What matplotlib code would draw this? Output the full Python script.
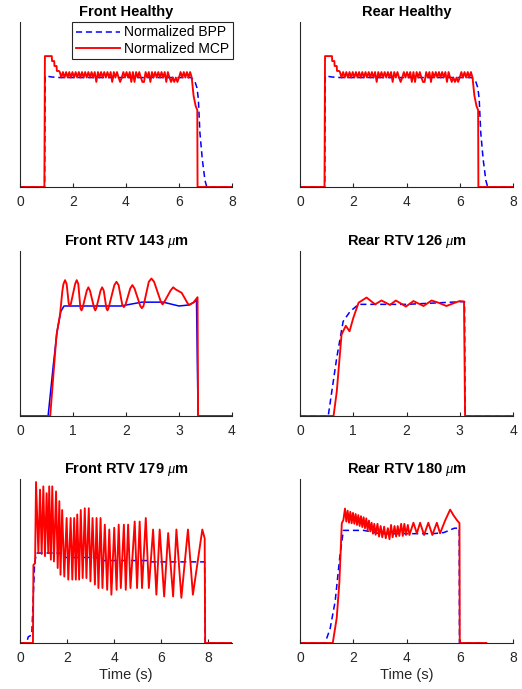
import matplotlib
matplotlib.use('Agg')
import matplotlib.pyplot as plt

plt.rcParams['font.family'] = ['Liberation Sans', 'DejaVu Sans']
plt.rcParams['mathtext.fontset'] = 'custom'
plt.rcParams['mathtext.it'] = 'Liberation Serif:italic'

# ---- Front / Rear Healthy (both panels show the same traces) ----
healthy_bpp_t = [0, 0.93, 0.95, 1.2, 1.5, 6.45, 6.6, 6.68, 6.73, 6.79, 6.88, 6.98, 7.05, 8.0]
healthy_bpp_v = [0, 0, 1.01, 1.0, 0.995, 0.995, 0.96, 0.9, 0.8, 0.49, 0.25, 0.06, 0, 0]

healthy_mcp_head_t = [0, 0.92, 0.94, 1.20, 1.21, 1.29, 1.30, 1.38, 1.39, 1.47]
healthy_mcp_head_v = [0, 0, 1.19, 1.19, 1.145, 1.145, 1.10, 1.10, 1.055, 1.055]
healthy_band_t = [1.50, 1.56, 1.62, 1.68, 1.74, 1.80, 1.86, 1.92, 1.98, 2.04,
                  2.10, 2.16, 2.22, 2.28, 2.34, 2.40, 2.46, 2.52, 2.58, 2.64,
                  2.70, 2.76, 2.82, 2.88, 2.94, 3.00, 3.06, 3.12, 3.18, 3.24,
                  3.30, 3.36, 3.42, 3.48, 3.54, 3.60, 3.66, 3.72, 3.78, 3.84,
                  3.90, 3.96, 4.02, 4.08, 4.14, 4.20, 4.26, 4.32, 4.38, 4.44,
                  4.50, 4.56, 4.62, 4.68, 4.74, 4.80, 4.86, 4.92, 4.98, 5.04,
                  5.10, 5.16, 5.22, 5.28, 5.34, 5.40, 5.46, 5.52, 5.58, 5.64,
                  5.70, 5.76, 5.82, 5.88, 5.94, 6.00, 6.06, 6.12, 6.18, 6.24,
                  6.30, 6.36, 6.42, 6.48]
# quantised MCP levels: H = upper step, L = lower step, D = dip
healthy_band_code = ("HLHLHLHLHL" "HLHLHLHLHL" "HLHDHLHLHL" "HLHDHLHLDL"
                     "HLHLHDHDHL" "HLDDHLHDHL" "HLHLHLHDHL" "DLDLDLHLHL" "HLHL")
band_levels = {'H': 1.045, 'L': 0.995, 'D': 0.955}
healthy_mcp_tail_t = [6.55, 6.63, 6.69, 6.70, 8.0]
healthy_mcp_tail_v = [0.83, 0.735, 0.70, 0, 0]

# ---- Front RTV 143 um ----
f143_bpp_t = [0, 0.53, 0.63, 0.70, 0.77, 0.83, 1.2, 1.9, 2.3, 2.7, 3.0, 3.2, 3.33, 3.36, 4.0]
f143_bpp_v = [0, 0, 0.47, 0.77, 0.95, 1.0, 1.0, 1.0, 1.035, 1.035, 1.0, 1.01, 1.05, 0, 0]
f143_mcp_t = [0, 0.57, 0.63, 0.69, 0.755, 0.80, 0.82, 0.85, 0.88, 0.92, 0.94, 0.96,
              1.04, 1.07, 1.10, 1.14, 1.16, 1.18, 1.26, 1.29, 1.32, 1.40, 1.42, 1.44,
              1.52, 1.55, 1.58, 1.63, 1.65, 1.67, 1.78, 1.82, 1.86, 1.93, 1.96, 1.99,
              2.08, 2.12, 2.16, 2.27, 2.30, 2.33, 2.43, 2.48, 2.53, 2.66, 2.69, 2.72,
              2.84, 2.89, 2.94, 3.05, 3.18, 3.27, 3.35, 3.36, 4.0]
f143_mcp_v = [0, 0, 0.375, 0.74, 0.92, 1.14, 1.20, 1.235, 1.20, 1.02, 1.0, 1.02,
              1.20, 1.235, 1.20, 0.98, 0.96, 0.98, 1.14, 1.17, 1.14, 0.98, 0.96, 0.98,
              1.14, 1.17, 1.14, 0.98, 0.96, 0.98, 1.19, 1.22, 1.19, 1.01, 0.99, 1.01,
              1.16, 1.19, 1.16, 1.0, 0.98, 1.0, 1.22, 1.25, 1.22, 1.035, 1.015, 1.035,
              1.14, 1.17, 1.15, 1.12, 1.01, 1.03, 1.08, 0, 0]

# ---- Rear RTV 126 um ----
r126_bpp_t = [0, 0.53, 0.69, 0.81, 0.94, 1.1, 2.0, 3.07, 3.09, 3.1, 4.0]
r126_bpp_v = [0, 0, 0.53, 0.86, 0.95, 1.015, 1.015, 1.04, 1.04, 0, 0]
r126_mcp_t = [0, 0.63, 0.69, 0.78, 0.86, 0.93, 1.0, 1.1, 1.25, 1.41, 1.53, 1.69, 1.8,
              1.99, 2.13, 2.32, 2.47, 2.6, 2.75, 2.91, 3.0, 3.08, 3.1, 4.0]
r126_mcp_v = [0, 0, 0.22, 0.74, 0.82, 0.77, 0.89, 1.03, 1.077, 1.015, 1.05, 1.01, 1.05,
              0.995, 1.045, 1.0, 1.05, 1.03, 1.0, 1.03, 1.045, 1.04, 0, 0]

# ---- Front RTV 179 um ----
f179_bpp_t = [0, 0.28, 0.35, 0.50, 0.56, 0.62, 0.70, 1.70, 1.75, 3.25, 3.35, 5.45, 5.55,
              7.84, 7.86, 9.0]
f179_bpp_v = [0, 0, 0.07, 0.09, 0.5, 0.9, 1.015, 1.015, 0.965, 0.965, 0.93, 0.93, 0.915,
              0.915, 0, 0]
f179_mcp_t = [0, 0.55, 0.57, 0.64, 0.68, 0.78, 0.85, 0.92, 0.99, 1.06, 1.13, 1.20, 1.24,
              1.31, 1.37, 1.44, 1.53, 1.60, 1.67, 1.72, 1.79, 1.88, 1.98, 2.05, 2.15,
              2.22, 2.30, 2.37, 2.43, 2.51, 2.58, 2.66, 2.75, 2.82, 2.92, 2.99, 3.08,
              3.18, 3.25, 3.33, 3.42, 3.50, 3.60, 3.70, 3.79, 3.88, 4.00, 4.10, 4.19,
              4.28, 4.41, 4.49, 4.59, 4.69, 4.87, 4.97, 5.08, 5.18, 5.34, 5.47, 5.65,
              5.79, 5.93, 6.12, 6.29, 6.50, 6.64, 6.85, 7.13, 7.34, 7.74, 7.84, 7.86, 9.0]
f179_mcp_v = [0, 0, 0.88, 0.90, 1.816, 1.015, 1.73, 1.004, 1.767, 0.98, 1.69, 1.015, 1.767,
              0.94, 1.767, 0.92, 1.71, 0.846, 1.60, 0.77, 1.50, 0.75, 1.41, 0.715, 1.41,
              0.715, 1.41, 0.715, 1.45, 0.715, 1.50, 0.733, 1.52, 0.733, 1.52, 0.695, 1.41,
              0.66, 1.41, 0.62, 1.41, 0.62, 1.335, 0.60, 1.28, 0.545, 1.30, 0.60, 1.335,
              0.62, 1.335, 0.60, 1.335, 0.62, 1.37, 0.62, 1.37, 0.62, 1.41, 0.62, 1.28,
              0.545, 1.28, 0.525, 1.24, 0.525, 1.28, 0.51, 1.28, 0.545, 1.28, 1.18, 0, 0]

# ---- Rear RTV 180 um ----
r180_bpp_t = [0, 0.94, 1.13, 1.32, 1.5, 1.63, 2.4, 3.0, 5.0, 5.4, 5.8, 5.98, 5.99, 7.0]
r180_bpp_v = [0, 0, 0.13, 0.38, 0.8, 1.03, 1.03, 1.0, 1.0, 1.01, 1.05, 1.05, 0, 0]
r180_mcp_t = [0, 1.23, 1.38, 1.48, 1.57, 1.63,
              1.69, 1.74, 1.79, 1.84, 1.89, 1.94, 1.99, 2.04, 2.09, 2.14, 2.19, 2.24,
              2.29, 2.34, 2.39, 2.44, 2.49, 2.54, 2.59, 2.64, 2.69, 2.74, 2.79, 2.84,
              2.91, 2.97, 3.03, 3.09, 3.16, 3.22, 3.30, 3.36, 3.42, 3.48, 3.55, 3.61,
              3.67, 3.73, 3.80, 3.86, 3.92, 3.98, 4.05, 4.11,
              4.26, 4.39, 4.51, 4.66, 4.82, 4.97, 5.14, 5.26, 5.45, 5.64, 5.76, 5.89,
              5.99, 6.0, 7.0]
r180_mcp_v = [0, 0, 0.23, 0.56, 1.095, 1.125,
              1.23, 1.11, 1.21, 1.10, 1.20, 1.095, 1.19, 1.09, 1.18, 1.08, 1.17, 1.07,
              1.16, 1.06, 1.15, 1.05, 1.14, 1.03, 1.12, 1.02, 1.10, 1.00, 1.09, 0.99,
              1.09, 0.973, 1.07, 0.967, 1.064, 0.958, 1.05, 0.949, 1.08, 0.967, 1.07, 0.973,
              1.07, 0.979, 1.09, 0.979, 1.09, 0.988, 1.08, 0.988,
              1.10, 1.003, 1.10, 0.988, 1.10, 0.988, 1.10, 1.003, 1.12, 1.22, 1.17, 1.125,
              1.095, 0, 0]

healthy_mcp_t = healthy_mcp_head_t + healthy_band_t + healthy_mcp_tail_t
healthy_mcp_v = (healthy_mcp_head_v + [band_levels[c] for c in healthy_band_code]
                 + healthy_mcp_tail_v)

titles = ['Front Healthy', 'Rear Healthy',
          r'Front RTV 143 $\mu$m', r'Rear RTV 126 $\mu$m',
          r'Front RTV 179 $\mu$m', r'Rear RTV 180 $\mu$m']
bpp_t = [healthy_bpp_t, healthy_bpp_t, f143_bpp_t, r126_bpp_t, f179_bpp_t, r180_bpp_t]
bpp_v = [healthy_bpp_v, healthy_bpp_v, f143_bpp_v, r126_bpp_v, f179_bpp_v, r180_bpp_v]
mcp_t = [healthy_mcp_t, healthy_mcp_t, f143_mcp_t, r126_mcp_t, f179_mcp_t, r180_mcp_t]
mcp_v = [healthy_mcp_v, healthy_mcp_v, f143_mcp_v, r126_mcp_v, f179_mcp_v, r180_mcp_v]
x_max = [8, 8, 4, 4, 9, 8]
x_ticks = [[0, 2, 4, 6, 8], [0, 2, 4, 6, 8], [0, 1, 2, 3, 4], [0, 1, 2, 3, 4],
           [0, 2, 4, 6, 8], [0, 2, 4, 6, 8]]
y_max = [1.5, 1.5, 1.5, 1.5, 1.85, 1.5]
bpp_style = ['--', '--', '-', '--', '--', '--']

fig = plt.figure(figsize=(5.22, 6.89), dpi=100)
lefts = [20 / 522, 300 / 522]
widths = [212 / 522, 213 / 522]
bottoms = [1 - 187 / 689, 1 - 416 / 689, 1 - 643 / 689]
heights = [165 / 689, 165 / 689, 164 / 689]
dark = '#262626'

for i in range(6):
    r, c = divmod(i, 2)
    ax = fig.add_axes([lefts[c], bottoms[r], widths[c], heights[r]])
    ax.plot(bpp_t[i], bpp_v[i], bpp_style[i], color='blue', lw=1.1,
            dashes=(4, 2.5) if bpp_style[i] == '--' else (None, None),
            label='Normalized BPP')
    ax.plot(mcp_t[i], mcp_v[i], '-', color='red', lw=1.35, label='Normalized MCP')
    ax.set_xlim(0, x_max[i])
    ax.set_ylim(0, y_max[i])
    ax.set_xticks(x_ticks[i])
    ax.set_yticks([])
    ax.spines['top'].set_visible(False)
    ax.spines['right'].set_visible(False)
    for s in ('left', 'bottom'):
        ax.spines[s].set_color(dark)
        ax.spines[s].set_linewidth(0.8)
    ax.tick_params(axis='x', direction='in', length=3, width=0.8, colors=dark,
                   labelsize=10, pad=6)
    ax.set_title(titles[i], fontsize=10.5, fontweight='bold', pad=4)
    if r == 2:
        ax.set_xlabel('Time (s)', fontsize=10.5, color=dark, labelpad=2)
    if i == 0:
        leg = ax.legend(loc='upper right', bbox_to_anchor=(1.005, 1.0), borderaxespad=0,
                        fontsize=10, handlelength=3.2, handletextpad=0.3,
                        fancybox=False, framealpha=1, edgecolor=dark,
                        borderpad=0.25, labelspacing=0.15)
        leg.get_frame().set_linewidth(0.8)

fig.savefig('out.png', dpi=100)
